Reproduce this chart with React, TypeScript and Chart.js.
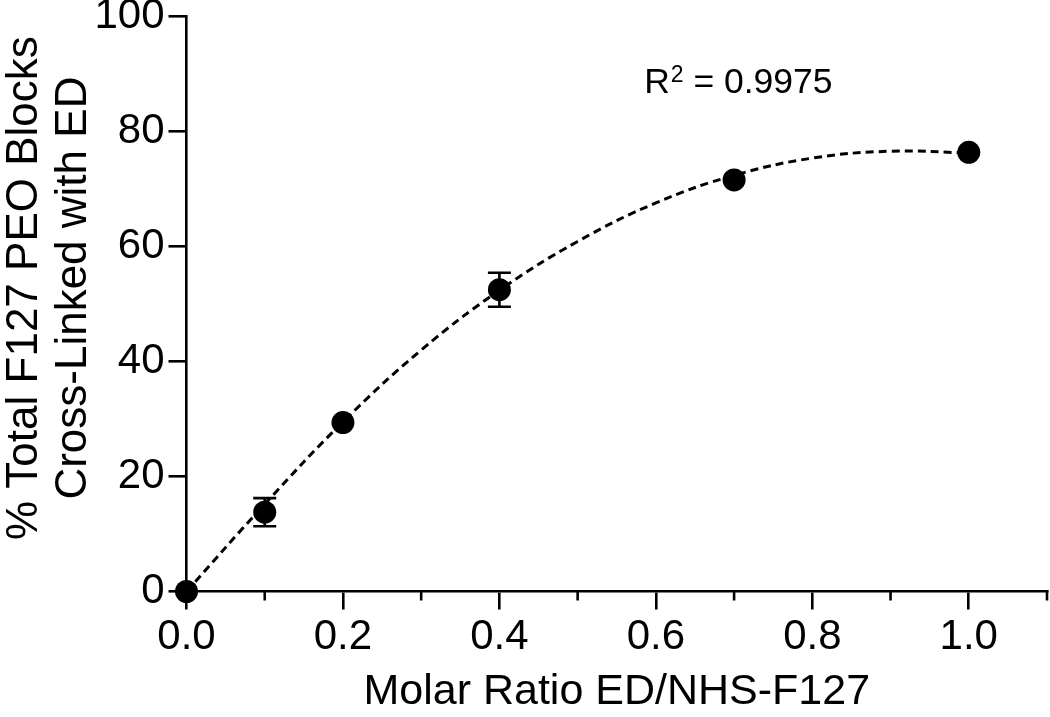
import { useEffect, useRef } from 'react';
import { Chart, registerables } from 'chart.js';

Chart.register(...registerables);

// ---- data ----
const xValues = [0, 0.1, 0.2, 0.4, 0.7, 1.0];
const yMeans = [0, 13.8, 29.4, 52.5, 71.6, 76.4];
const yErrors = [0, 2.45, 0, 2.95, 0, 0];
const fitX = [0, 0.1, 0.2, 0.3, 0.4, 0.5, 0.6, 0.7, 0.8, 0.9, 1.0];
const fitY = [0, 15.2, 29.5, 42.0, 52.4, 60.9, 67.6, 72.4, 75.4, 76.6, 76.3];
const xMajorTicks = [0, 0.2, 0.4, 0.6, 0.8, 1.0];
const xMinorTicks = [0.1, 0.3, 0.5, 0.7, 0.9, 1.1];
const yTicks = [0, 20, 40, 60, 80, 100];
const xTitle = 'Molar Ratio ED/NHS-F127';
const yTitle = ['% Total F127 PEO Blocks', 'Cross-Linked with ED'];
const rSquaredLabel = 'R';
const rSquaredSup = '2';
const rSquaredValue = ' = 0.9975';

const FONT = "'Liberation Sans', Arial, Helvetica, sans-serif";
const LW = 2.6;

const errorBarPlugin = {
  id: 'errorBars',
  afterDatasetsDraw(chart: any) {
    const { ctx, scales } = chart;
    const xs = scales.x;
    const ys = scales.y;
    ctx.save();
    ctx.strokeStyle = '#000';
    ctx.lineWidth = LW;
    xValues.forEach((xv, i) => {
      const e = yErrors[i];
      if (!e) return;
      const px = xs.getPixelForValue(xv);
      const top = ys.getPixelForValue(yMeans[i] + e);
      const bot = ys.getPixelForValue(yMeans[i] - e);
      const cap = 11.5;
      ctx.beginPath();
      ctx.moveTo(px, top);
      ctx.lineTo(px, bot);
      ctx.moveTo(px - cap, top);
      ctx.lineTo(px + cap, top);
      ctx.moveTo(px - cap, bot);
      ctx.lineTo(px + cap, bot);
      ctx.stroke();
    });
    ctx.restore();
  },
};

const minorTickPlugin = {
  id: 'minorTicks',
  afterDraw(chart: any) {
    const { ctx, scales, chartArea } = chart;
    const xs = scales.x;
    ctx.save();
    ctx.strokeStyle = '#000';
    ctx.lineWidth = LW;
    xMinorTicks.forEach((v) => {
      const px = xs.getPixelForValue(v);
      ctx.beginPath();
      ctx.moveTo(px, chartArea.bottom);
      ctx.lineTo(px, chartArea.bottom + 9);
      ctx.stroke();
    });
    ctx.restore();
  },
};

const yTitlePlugin = {
  id: 'yTitle',
  afterDraw(chart: any) {
    const { ctx, chartArea } = chart;
    const cy = (chartArea.top + chartArea.bottom) / 2 - 16;
    const baselines = [37, 86];
    ctx.save();
    ctx.fillStyle = '#000';
    ctx.font = `44px ${FONT}`;
    ctx.textAlign = 'center';
    ctx.textBaseline = 'alphabetic';
    yTitle.forEach((line, i) => {
      ctx.save();
      ctx.translate(baselines[i], cy);
      ctx.rotate(-Math.PI / 2);
      ctx.fillText(line, 0, 0);
      ctx.restore();
    });
    ctx.restore();
  },
};

const r2Plugin = {
  id: 'r2Label',
  afterDraw(chart: any) {
    const { ctx, scales } = chart;
    const x0 = scales.x.getPixelForValue(0.585);
    const yb = scales.y.getPixelForValue(86.7);
    ctx.save();
    ctx.fillStyle = '#000';
    ctx.textBaseline = 'alphabetic';
    ctx.textAlign = 'left';
    ctx.font = `35.5px ${FONT}`;
    ctx.fillText(rSquaredLabel, x0, yb);
    let x = x0 + ctx.measureText(rSquaredLabel).width + 1;
    ctx.font = `23px ${FONT}`;
    ctx.fillText(rSquaredSup, x, yb - 11);
    x += ctx.measureText(rSquaredSup).width;
    ctx.font = `35.5px ${FONT}`;
    ctx.fillText(rSquaredValue, x, yb);
    ctx.restore();
  },
};

export default function App() {
  const canvasRef = useRef<HTMLCanvasElement | null>(null);

  useEffect(() => {
    if (!canvasRef.current) return;
    const axisGrid = {
      drawOnChartArea: false,
      drawTicks: true,
      tickLength: 18,
      tickWidth: LW,
      tickColor: '#000',
      lineWidth: LW,
      color: '#000',
    };
    const chart = new Chart(canvasRef.current, {
      type: 'scatter',
      data: {
        datasets: [
          {
            label: 'data',
            data: xValues.map((x, i) => ({ x, y: yMeans[i] })),
            backgroundColor: '#000',
            borderColor: '#000',
            borderWidth: 0,
            pointRadius: 11.5,
            pointHoverRadius: 11.5,
            clip: false as any,
          },
          {
            label: 'fit',
            data: fitX.map((x, i) => ({ x, y: fitY[i] })),
            showLine: true,
            borderColor: '#000',
            borderWidth: 3,
            borderDash: [8, 5],
            pointRadius: 0,
            pointHoverRadius: 0,
            tension: 0.4,
            fill: false,
            clip: false as any,
          },
        ],
      },
      options: {
        animation: false,
        responsive: true,
        maintainAspectRatio: false,
        events: [],
        layout: { autoPadding: false, padding: { top: 16.7, right: 3, left: 0, bottom: 0 } },
        plugins: {
          legend: { display: false },
          tooltip: { enabled: false },
        },
        scales: {
          x: {
            type: 'linear',
            min: 0,
            max: 1.1,
            afterBuildTicks: (s: any) => {
              s.ticks = xMajorTicks.map((v) => ({ value: v }));
            },
            afterFit: (s: any) => {
              s.height = 125.5;
              s.paddingLeft = 0;
              s.paddingRight = 0;
            },
            ticks: {
              autoSkip: false,
              maxRotation: 0,
              padding: 3,
              color: '#000',
              font: { size: 42, family: FONT },
              callback: (v: any) => Number(v).toFixed(1),
            },
            grid: axisGrid,
            border: { display: true, color: '#000', width: LW },
            title: {
              display: true,
              text: xTitle,
              color: '#000',
              font: { size: 43, family: FONT, lineHeight: 1.2 },
              padding: { top: 0, bottom: -1 },
            },
          },
          y: {
            type: 'linear',
            min: 0,
            max: 100,
            afterBuildTicks: (s: any) => {
              s.ticks = yTicks.map((v) => ({ value: v }));
            },
            afterFit: (s: any) => {
              s.width = 186.5;
              s.paddingTop = 0;
              s.paddingBottom = 0;
            },
            ticks: {
              autoSkip: false,
              padding: 4,
              color: '#000',
              font: { size: 42, family: FONT },
              callback: (v: any) => String(v),
            },
            grid: axisGrid,
            border: { display: true, color: '#000', width: LW },
            title: { display: false },
          },
        },
      },
      plugins: [errorBarPlugin, minorTickPlugin, yTitlePlugin, r2Plugin],
    } as any);
    return () => chart.destroy();
  }, []);

  return (
    <div style={{ position: 'fixed', left: 0, top: 0, width: 1050, height: 717, background: '#fff' }}>
      <canvas ref={canvasRef} />
    </div>
  );
}
